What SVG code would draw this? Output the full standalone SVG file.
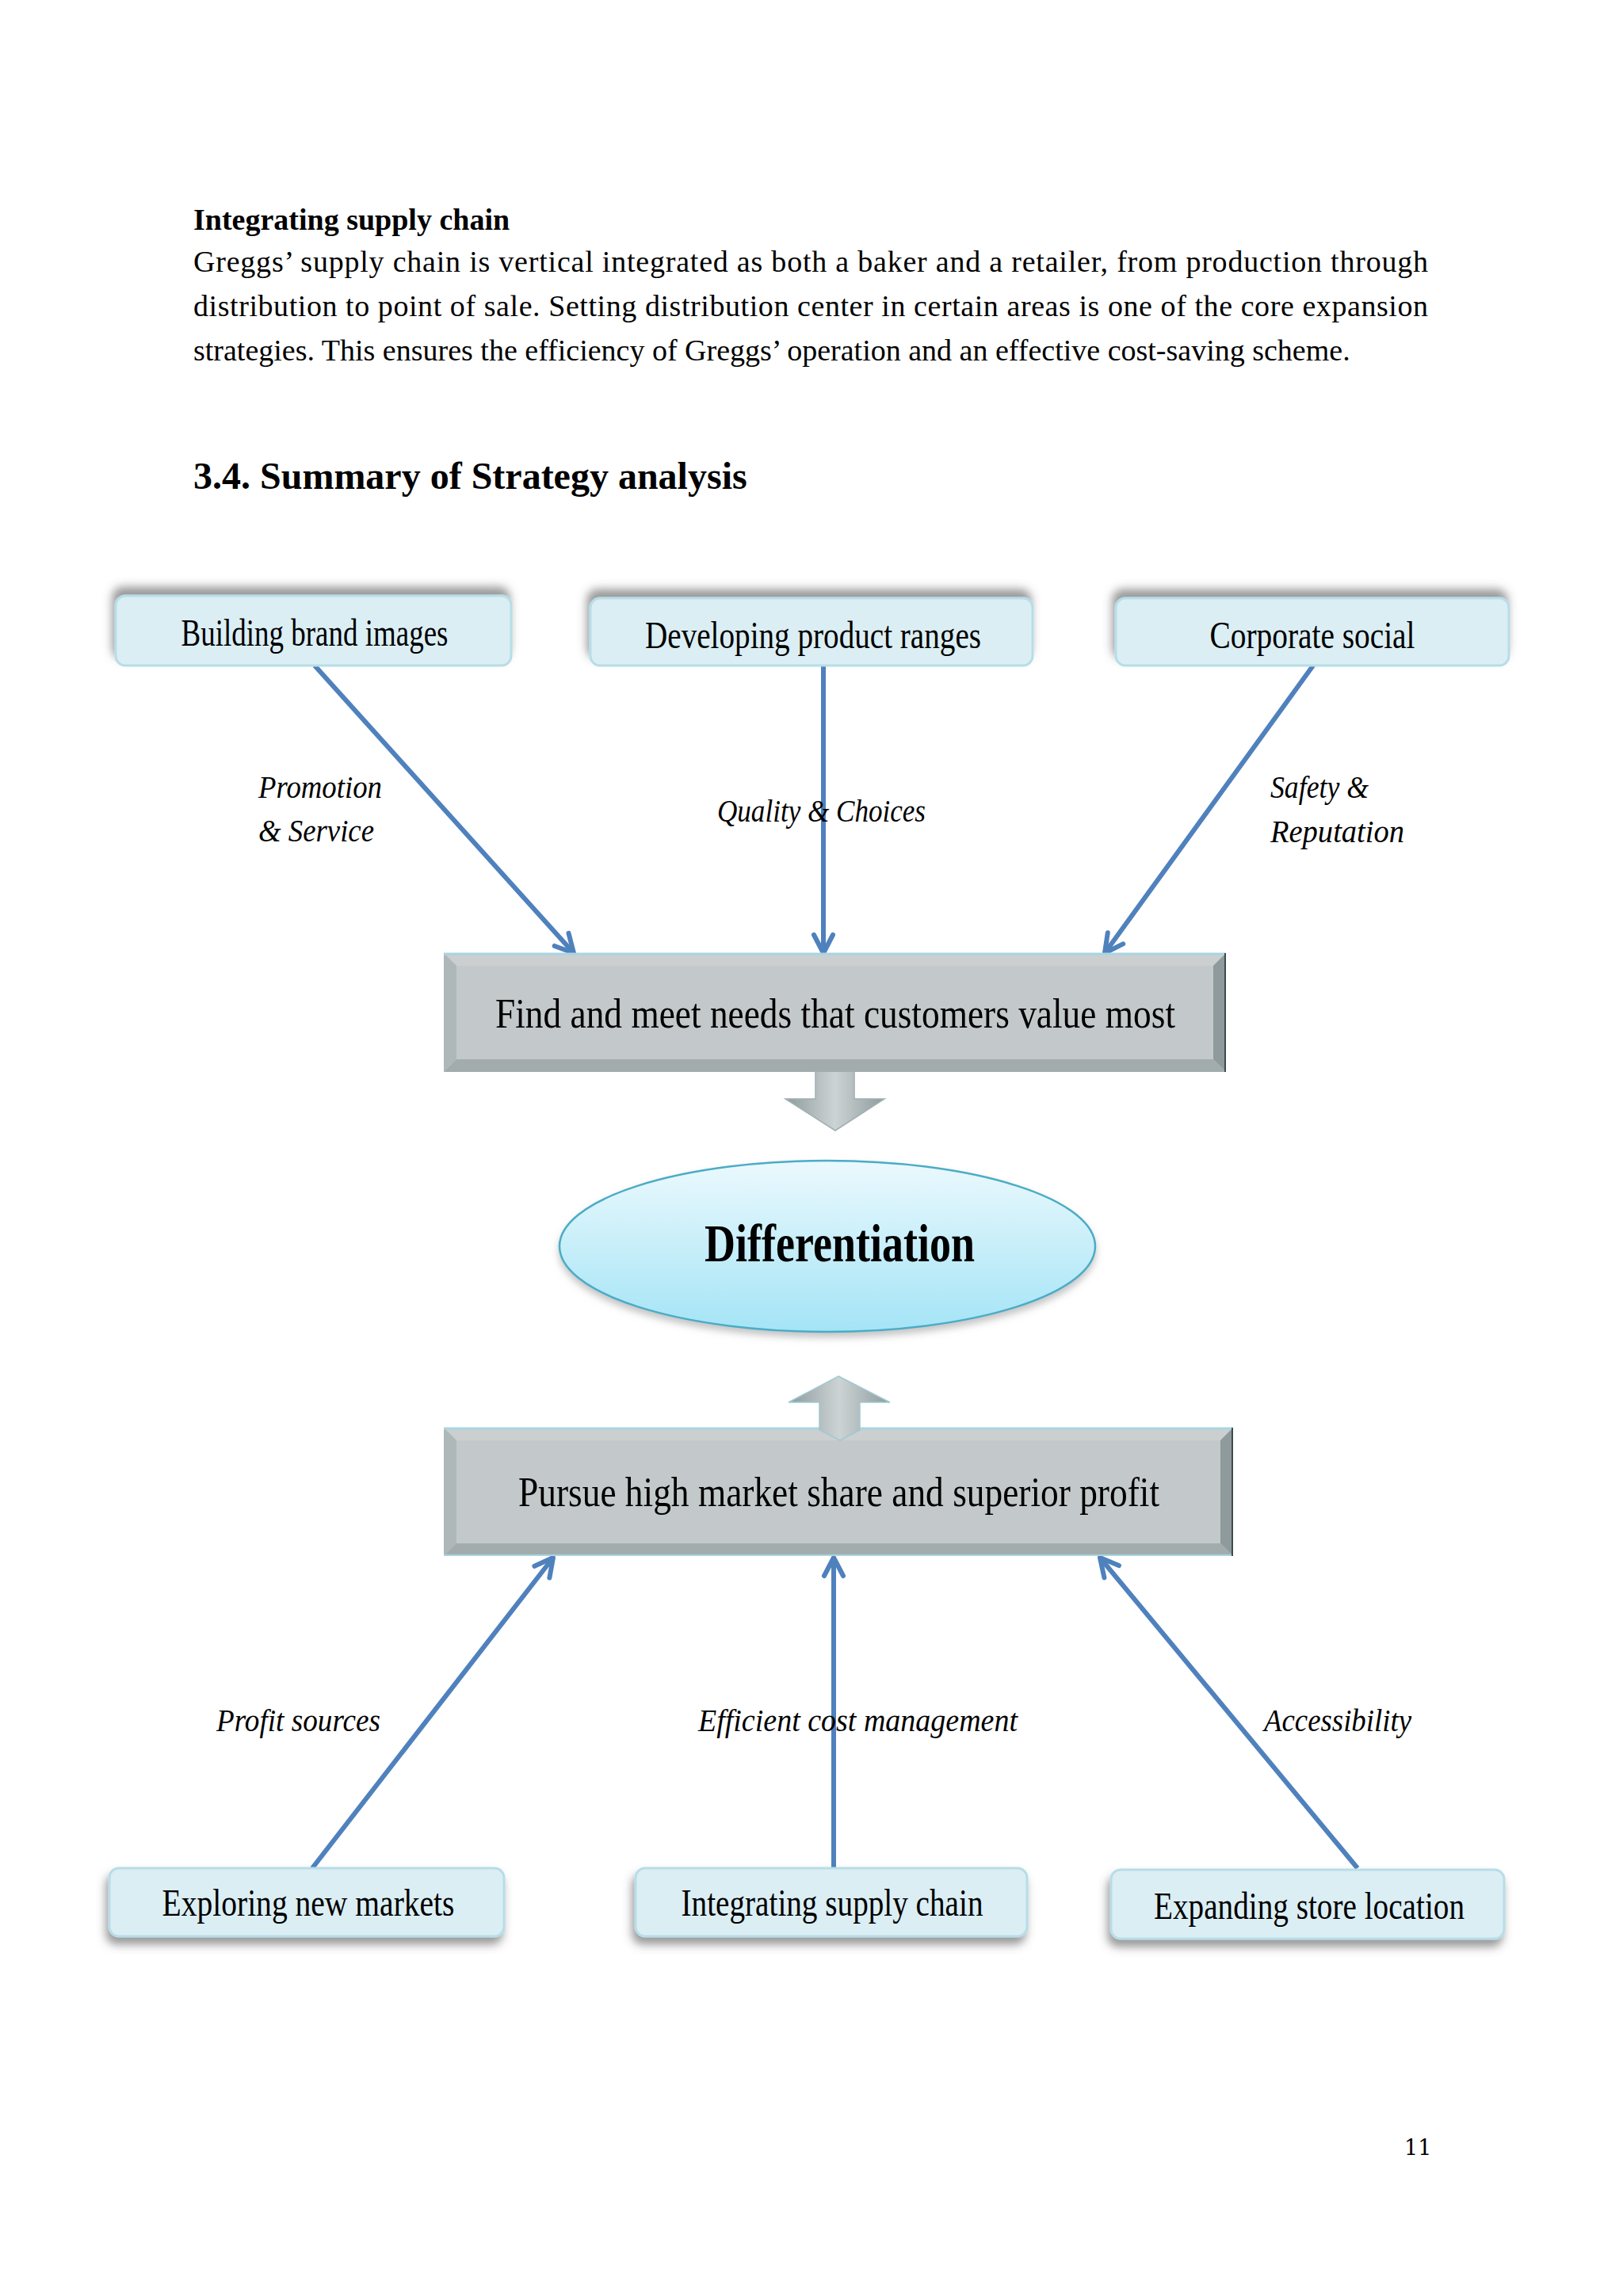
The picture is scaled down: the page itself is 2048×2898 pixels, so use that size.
<svg xmlns="http://www.w3.org/2000/svg" width="2048" height="2898" viewBox="0 0 2048 2898">
<style>
.body{font-family:"Liberation Serif","Times New Roman",serif;font-size:38px;fill:#000}
.bold{font-weight:bold}
.box{fill:#DBEEF4;stroke:#B7DDE8;stroke-width:3}
.bt{font-family:"Liberation Serif","Times New Roman",serif;font-size:48px;fill:#000;text-anchor:middle}
.lbl{font-family:"Liberation Serif","Times New Roman",serif;font-size:40px;font-style:italic;fill:#000}
.mt{font-family:"Liberation Serif","Times New Roman",serif;font-size:52px;fill:#000}
.conn{stroke:#4F81BD;stroke-width:6;fill:none;marker-end:url(#ah)}
</style>
<defs>
<marker id="ah" markerUnits="userSpaceOnUse" markerWidth="36" markerHeight="36" viewBox="0 0 36 36" refX="31" refY="18" orient="auto">
<path d="M8,6 L31,18 L8,30" fill="none" stroke="#4F81BD" stroke-width="6" stroke-linecap="round" stroke-linejoin="round"/>
</marker>
<filter id="shUp" x="-10%" y="-40%" width="120%" height="180%">
<feDropShadow dx="-3" dy="-10" stdDeviation="6" flood-color="#555" flood-opacity="0.6"/>
</filter>
<filter id="shDown" x="-10%" y="-40%" width="120%" height="180%">
<feDropShadow dx="-3" dy="9" stdDeviation="6" flood-color="#555" flood-opacity="0.6"/>
</filter>
<filter id="shEll" x="-10%" y="-20%" width="120%" height="150%">
<feDropShadow dx="0" dy="6" stdDeviation="5" flood-color="#888" flood-opacity="0.5"/>
</filter>
<linearGradient id="ellG" x1="0" y1="0" x2="0" y2="1">
<stop offset="0" stop-color="#EBF9FD"/>
<stop offset="1" stop-color="#A4E4F6"/>
</linearGradient>
<linearGradient id="arrG" x1="0" y1="0" x2="1" y2="0">
<stop offset="0" stop-color="#8E9B9D"/>
<stop offset="0.5" stop-color="#CDD3D4"/>
<stop offset="1" stop-color="#8E9B9D"/>
</linearGradient>
</defs>
<rect width="2048" height="2898" fill="#FFFFFF"/>

<g id="text">
<text class="body bold" x="244" y="290">Integrating supply chain</text>
<text class="body" x="244" y="343" textLength="1558" lengthAdjust="spacing">Greggs’ supply chain is vertical integrated as both a baker and a retailer, from production through</text>
<text class="body" x="244" y="399" textLength="1558" lengthAdjust="spacing">distribution to point of sale. Setting distribution center in certain areas is one of the core expansion</text>
<text class="body" x="244" y="455">strategies. This ensures the efficiency of Greggs’ operation and an effective cost-saving scheme.</text>
<text class="body bold" x="244" y="617" style="font-size:48px">3.4. Summary of Strategy analysis</text>
<text x="1772" y="2720" style="font-family:'DejaVu Serif','Liberation Serif',serif;font-size:27px">11</text>
</g>

<g id="connectors">
<line class="conn" x1="397" y1="840" x2="724" y2="1203"/>
<line class="conn" x1="1039" y1="840" x2="1039" y2="1203"/>
<line class="conn" x1="1657" y1="840" x2="1394" y2="1203"/>
<line class="conn" x1="394" y1="2358" x2="698" y2="1966"/>
<line class="conn" x1="1052" y1="2358" x2="1052" y2="1966"/>
<line class="conn" x1="1713" y1="2358" x2="1388" y2="1966"/>
<polygon points="1029,1340 1078,1340 1078,1387 1116,1387 1054,1427 991,1387 1029,1387" fill="url(#arrG)" stroke="#9FB0B3" stroke-width="1.5"/>
</g>

<g id="labels">
<text class="lbl" x="326" y="1007" textLength="156" lengthAdjust="spacingAndGlyphs">Promotion</text>
<text class="lbl" x="326" y="1062" textLength="146" lengthAdjust="spacingAndGlyphs">&amp; Service</text>
<text class="lbl" x="905" y="1037" textLength="263" lengthAdjust="spacingAndGlyphs">Quality &amp; Choices</text>
<text class="lbl" x="1603" y="1007" textLength="124" lengthAdjust="spacingAndGlyphs">Safety &amp;</text>
<text class="lbl" x="1603" y="1063" textLength="169" lengthAdjust="spacingAndGlyphs">Reputation</text>
<text class="lbl" x="273" y="2185" textLength="207" lengthAdjust="spacingAndGlyphs">Profit sources</text>
<text class="lbl" x="881" y="2185" textLength="403" lengthAdjust="spacingAndGlyphs">Efficient cost management</text>
<text class="lbl" x="1595" y="2185" textLength="186" lengthAdjust="spacingAndGlyphs">Accessibility</text>
</g>

<g id="n-brand">
<rect class="box" x="146" y="752" width="499" height="88" rx="12" filter="url(#shUp)"/>
<text class="bt" x="397" y="815" textLength="337" lengthAdjust="spacingAndGlyphs">Building brand images</text>
</g>
<g id="n-product">
<rect class="box" x="745" y="755" width="558" height="85" rx="12" filter="url(#shUp)"/>
<text class="bt" x="1026" y="818" textLength="424" lengthAdjust="spacingAndGlyphs">Developing product ranges</text>
</g>
<g id="n-csr">
<rect class="box" x="1408" y="755" width="496" height="85" rx="12" filter="url(#shUp)"/>
<text class="bt" x="1656" y="818" textLength="259" lengthAdjust="spacingAndGlyphs">Corporate social</text>
</g>

<g id="n-needs">
<rect x="560" y="1203" width="987" height="150" fill="#C3C9CA"/>
<polygon points="560,1203 1547,1203 1531,1219 576,1219" fill="#CBCFD0"/>
<polygon points="560,1203 576,1219 576,1337 560,1353" fill="#AFB8B9"/>
<polygon points="1547,1203 1547,1353 1531,1337 1531,1219" fill="#8E9A9B"/>
<polygon points="560,1353 576,1337 1531,1337 1547,1353" fill="#A3ACAD"/>
<line x1="560" y1="1204" x2="1547" y2="1204" stroke="#A8D5E2" stroke-width="3"/>
<line x1="1546" y1="1203" x2="1546" y2="1353" stroke="#3E4C4E" stroke-width="2"/>
<text class="mt" x="625" y="1297" textLength="858" lengthAdjust="spacingAndGlyphs">Find and meet needs that customers value most</text>
</g>

<g id="n-diff">
<ellipse cx="1044" cy="1573" rx="338" ry="108" fill="url(#ellG)" stroke="#4BACC6" stroke-width="2.5" filter="url(#shEll)"/>
<text x="889" y="1592" textLength="341" lengthAdjust="spacingAndGlyphs" style="font-family:'Liberation Serif','Times New Roman',serif;font-size:68px;font-weight:bold">Differentiation</text>
</g>

<g id="n-profit">
<rect x="560" y="1802" width="996" height="162" fill="#C3C9CA"/>
<polygon points="560,1802 1556,1802 1540,1818 576,1818" fill="#CBCFD0"/>
<polygon points="560,1802 576,1818 576,1948 560,1964" fill="#AFB8B9"/>
<polygon points="1556,1802 1556,1964 1540,1948 1540,1818" fill="#8E9A9B"/>
<polygon points="560,1964 576,1948 1540,1948 1556,1964" fill="#A3ACAD"/>
<line x1="560" y1="1803" x2="1556" y2="1803" stroke="#A8D5E2" stroke-width="3"/>
<line x1="560" y1="1963" x2="1556" y2="1963" stroke="#A8D5E2" stroke-width="2"/>
<line x1="1555" y1="1802" x2="1555" y2="1964" stroke="#3E4C4E" stroke-width="2"/>
<text class="mt" x="654" y="1901" textLength="809" lengthAdjust="spacingAndGlyphs">Pursue high market share and superior profit</text>
<polygon points="1058,1737 1123,1770 1085,1770 1085,1805 1060,1818 1034,1805 1034,1770 995,1770" fill="url(#arrG)" stroke="#9FC9D4" stroke-width="1.5"/>
</g>

<g id="n-markets">
<rect class="box" x="138" y="2358" width="498" height="86" rx="12" filter="url(#shDown)"/>
<text class="bt" x="389" y="2418" textLength="369" lengthAdjust="spacingAndGlyphs">Exploring new markets</text>
</g>
<g id="n-supply">
<rect class="box" x="802" y="2358" width="494" height="86" rx="12" filter="url(#shDown)"/>
<text class="bt" x="1050" y="2418" textLength="381" lengthAdjust="spacingAndGlyphs">Integrating supply chain</text>
</g>
<g id="n-store">
<rect class="box" x="1402" y="2360" width="496" height="87" rx="12" filter="url(#shDown)"/>
<text class="bt" x="1652" y="2422" textLength="392" lengthAdjust="spacingAndGlyphs">Expanding store location</text>
</g>
</svg>
